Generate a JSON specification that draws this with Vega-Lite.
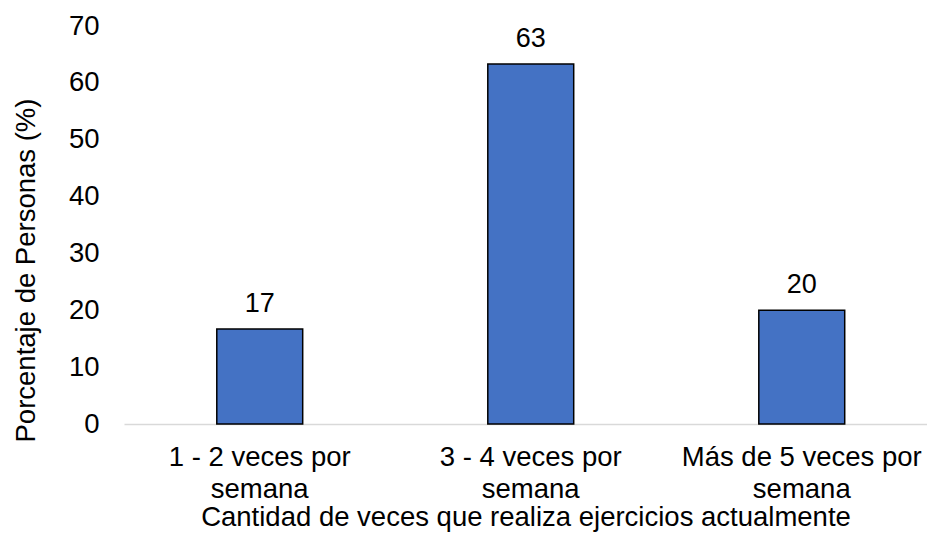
{
  "$schema": "https://vega.github.io/schema/vega-lite/v6.json",
  "width": 803,
  "height": 398,
  "autosize": "none",
  "padding": {"left": 124, "top": 26, "right": 0, "bottom": 109},
  "background": "white",
  "config": {
    "view": {"stroke": null},
    "font": "Liberation Sans"
  },
  "data": {
    "values": [
      {"categoria": "1 - 2 veces por|semana", "porcentaje": 16.7},
      {"categoria": "3 - 4 veces por|semana", "porcentaje": 63.3},
      {"categoria": "Más de 5 veces por|semana", "porcentaje": 20}
    ]
  },
  "encoding": {
    "x": {
      "field": "categoria",
      "type": "nominal",
      "sort": null,
      "scale": {"paddingInner": 0.683, "paddingOuter": 0.323, "align": 0.53},
      "axis": {
        "title": "Cantidad de veces que realiza ejercicios actualmente",
        "titleFont": "Liberation Sans",
        "titleFontSize": 27.5,
        "titleFontWeight": "normal",
        "titleColor": "#000000",
        "titlePadding": 0,
        "labelExpr": "split(datum.label, '|')",
        "labelAngle": 0,
        "labelFont": "Liberation Sans",
        "labelFontSize": 27.5,
        "labelColor": "#000000",
        "labelLineHeight": 32.5,
        "labelPadding": 19,
        "labelLimit": 0,
        "ticks": false,
        "domainColor": "#d9d9d9",
        "domainWidth": 1.5
      }
    },
    "y": {
      "field": "porcentaje",
      "type": "quantitative",
      "scale": {"domain": [0, 70], "nice": false},
      "axis": {
        "title": "Porcentaje de Personas (%)",
        "titleFont": "Liberation Sans",
        "titleFontSize": 27.5,
        "titleFontWeight": "normal",
        "titleColor": "#000000",
        "titleAngle": -90,
        "titleAlign": "center",
        "titleBaseline": "alphabetic",
        "titleX": -90,
        "titleY": 244,
        "values": [0, 10, 20, 30, 40, 50, 60, 70],
        "labelFont": "Liberation Sans",
        "labelFontSize": 27.5,
        "labelColor": "#000000",
        "labelPadding": 25,
        "grid": false,
        "domain": false,
        "ticks": false
      }
    }
  },
  "layer": [
    {
      "mark": {"type": "bar", "color": "#4472C4", "stroke": "#000000", "strokeWidth": 1.5}
    },
    {
      "mark": {"type": "text", "baseline": "alphabetic", "dy": -17, "fontSize": 27, "font": "Liberation Sans", "color": "#000000"},
      "encoding": {
        "text": {"field": "porcentaje", "type": "quantitative", "format": ".0f"}
      }
    }
  ]
}
